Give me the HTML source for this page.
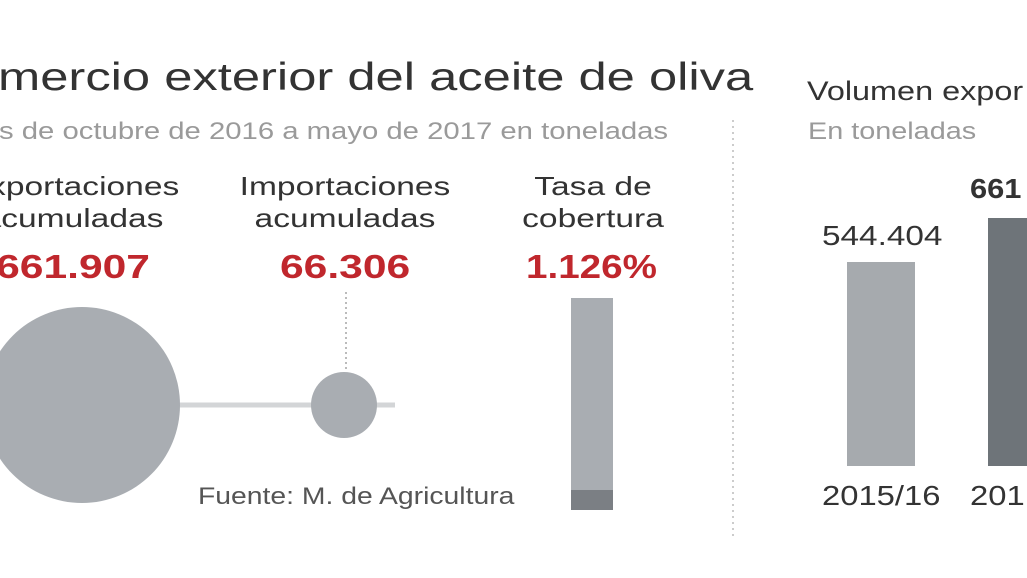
<!DOCTYPE html>
<html><head><meta charset="utf-8"><style>
html,body{margin:0;padding:0;background:#fff;}
body{width:1027px;height:578px;position:relative;overflow:hidden;font-family:"Liberation Sans",sans-serif;}
.t{position:absolute;white-space:nowrap;transform-origin:left top;}
.c{transform-origin:center top;}
</style></head><body>
<div class="t" style="left:-2px;top:56px;font-size:39px;color:#333;transform:scaleX(1.3);">mercio exterior del aceite de oliva</div>
<div class="t" style="left:-1px;top:118px;font-size:24px;color:#9a9a9a;transform:scaleX(1.22);">s de octubre de 2016 a mayo de 2017 en toneladas</div>

<div class="t c" style="left:-112px;width:370px;text-align:center;top:170px;font-size:26px;line-height:32px;color:#333;transform:scaleX(1.29);">Exportaciones<br>acumuladas</div>
<div class="t c" style="left:160px;width:370px;text-align:center;top:170px;font-size:26px;line-height:32px;color:#333;transform:scaleX(1.29);">Importaciones<br>acumuladas</div>
<div class="t c" style="left:408px;width:370px;text-align:center;top:170px;font-size:26px;line-height:32px;color:#333;transform:scaleX(1.29);">Tasa de<br>cobertura</div>

<div class="t" style="left:-50px;width:200px;text-align:right;top:248px;font-size:33px;font-weight:bold;color:#c0272d;transform-origin:right top;transform:scaleX(1.29);">661.907</div>
<div class="t" style="left:280px;top:248px;font-size:33px;font-weight:bold;color:#c0272d;transform:scaleX(1.29);">66.306</div>
<div class="t" style="left:526px;top:248px;font-size:33px;font-weight:bold;color:#c0272d;transform:scaleX(1.17);">1.126%</div>

<svg width="1027" height="578" style="position:absolute;left:0;top:0;">
<line x1="170" y1="405" x2="395" y2="405" stroke="#d3d5d7" stroke-width="5"/>
<circle cx="82" cy="405" r="98" fill="#a9adb2"/>
<line x1="346" y1="292" x2="346" y2="372" stroke="#bbb" stroke-width="2" stroke-dasharray="2,3"/>
<circle cx="344" cy="405" r="33" fill="#a9adb2"/>
<rect x="571" y="298" width="42" height="212" fill="#a9adb2"/>
<rect x="571" y="490" width="42" height="20" fill="#7b7f84"/>
<line x1="733" y1="120" x2="733" y2="540" stroke="#ccc" stroke-width="2" stroke-dasharray="2,4"/>
<rect x="847" y="262" width="68" height="204" fill="#a6aaae"/>
<rect x="988" y="218" width="39" height="248" fill="#6e7479"/>
</svg>

<div class="t" style="left:198px;top:483px;font-size:24px;color:#555;transform:scaleX(1.18);">Fuente: M. de Agricultura</div>

<div class="t" style="left:807px;top:76px;font-size:27px;color:#333;transform:scaleX(1.2);">Volumen expor</div>
<div class="t" style="left:808px;top:118px;font-size:24px;color:#9a9a9a;transform:scaleX(1.2);">En toneladas</div>
<div class="t" style="left:822px;top:220px;font-size:28px;color:#333;transform:scaleX(1.19);">544.404</div>
<div class="t" style="left:970px;top:173px;font-size:28px;font-weight:bold;color:#333;transform:scaleX(1.1);">661</div>
<div class="t" style="left:822px;top:480px;font-size:28px;color:#333;transform:scaleX(1.17);">2015/16</div>
<div class="t" style="left:970px;top:480px;font-size:28px;color:#333;transform:scaleX(1.17);">201</div>
</body></html>
